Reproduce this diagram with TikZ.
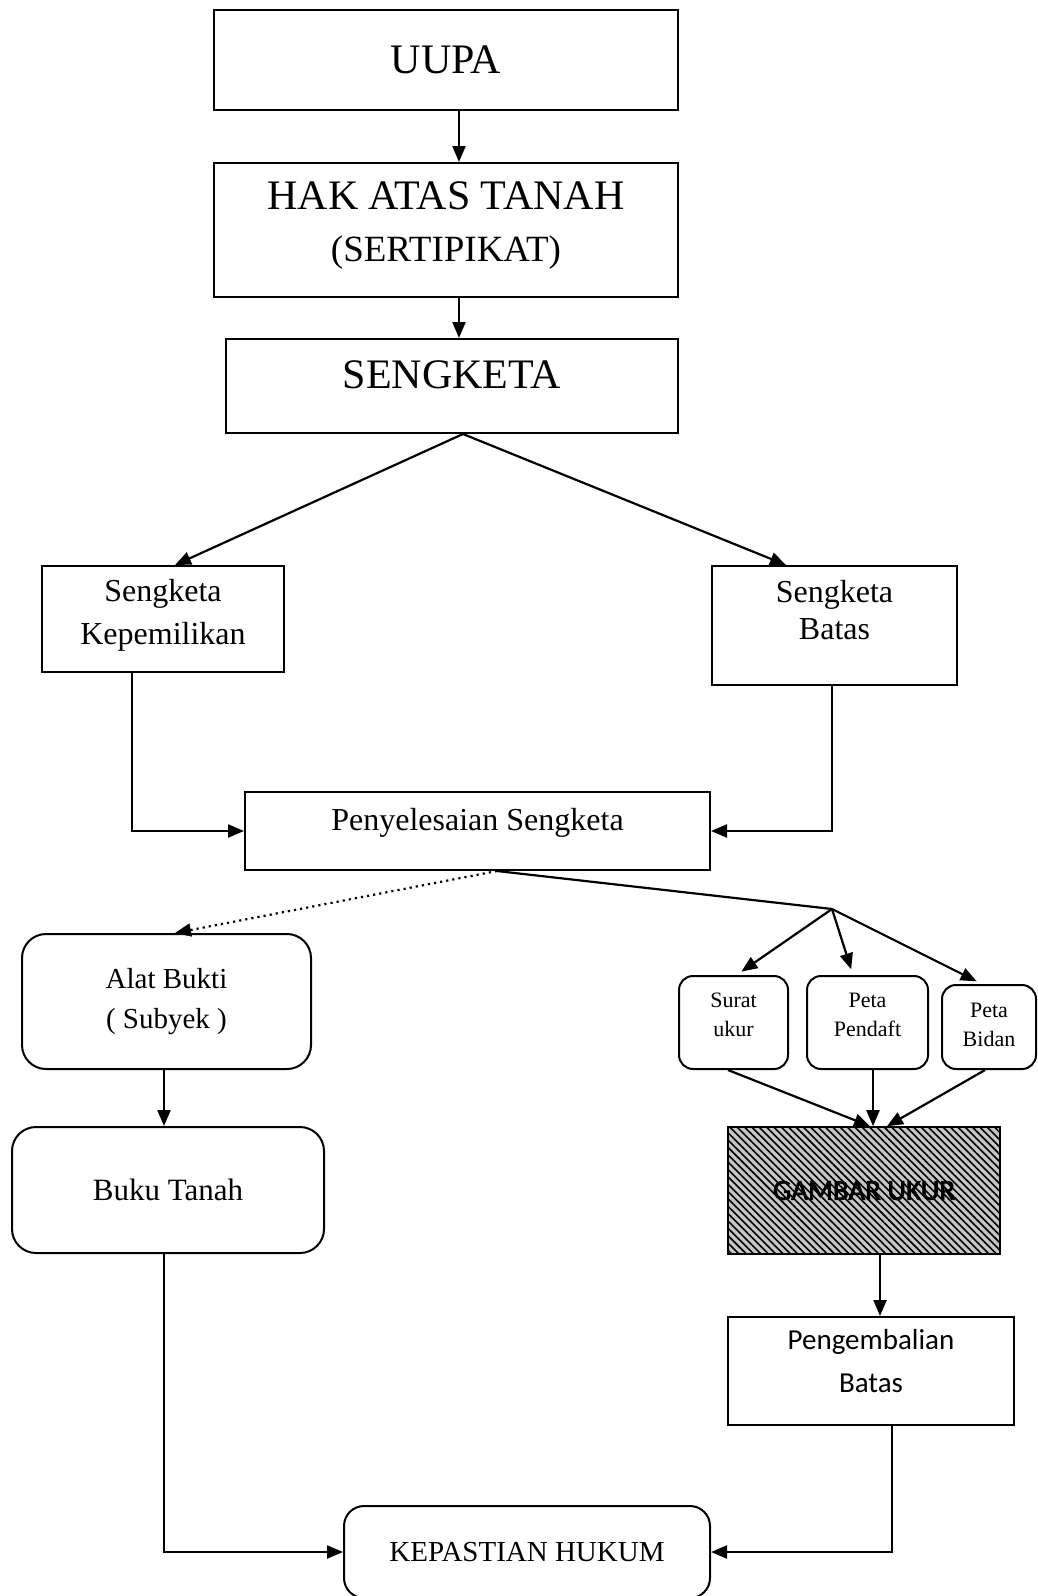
\documentclass[tikz,border=0pt]{standalone}
\usepackage{fontspec}
\setmainfont{Liberation Serif}
\newfontfamily\calfont{Carlito}
\newfontfamily\calheavy[FakeBold=2.5]{Carlito}
\usepackage{tikz}
\usetikzlibrary{positioning,calc,arrows.meta,patterns.meta}
\newcommand{\fsz}[2]{\fontsize{#1}{#2}\selectfont}
\tikzset{
  box/.style={rectangle,draw,line width=1pt,align=center,inner sep=2pt},
  rbox/.style={box,rounded corners=#1},
  arr/.style={-{Triangle[length=8pt,width=6.5pt]},line width=1.1pt},
}
\begin{document}
\begin{tikzpicture}[x=0.5pt,y=-0.5pt]
\useasboundingbox (0,0) rectangle (1038,1596);
\node[box,minimum width=232pt,minimum height=50pt,font=\fsz{21}{25}] (uupa) at (446,60) {UUPA};
\node[box,minimum width=232pt,minimum height=67pt,font=\fsz{21}{26},text depth=8pt] (hak) at (446,230) {HAK ATAS TANAH\\\fsz{18.5}{26}(SERTIPIKAT)};
\node[box,minimum width=226pt,minimum height=47pt,font=\fsz{21}{25},text depth=11pt] (sengketa) at (452,386) {SENGKETA};
\node[box,minimum width=121pt,minimum height=53pt,font=\fsz{16}{21.5},text depth=7pt] (kepem) at (163,619) {Sengketa\\Kepemilikan};
\node[box,minimum width=122.5pt,minimum height=59.5pt,font=\fsz{16}{18.5},text depth=16pt] (batas) at (834.5,625.5) {Sengketa\\Batas};
\node[box,minimum width=232.5pt,minimum height=39pt,font=\fsz{16}{20},text depth=12pt] (penyel) at (477.5,831) {Penyelesaian Sengketa};
\node[rbox=12pt,minimum width=144.5pt,minimum height=67.5pt,font=\fsz{14.5}{20}] (alat) at (166.5,1001.5) {Alat Bukti\\( Subyek )};
\node[rbox=7pt,minimum width=54.5pt,minimum height=46.5pt,font=\fsz{11}{14.5},text depth=8pt] (surat) at (733.5,1022.5) {Surat\\ukur};
\node[rbox=7pt,minimum width=60.5pt,minimum height=46.5pt,font=\fsz{11}{14.5},text depth=7.5pt] (pendaft) at (867.5,1022.5) {Peta\\Pendaft};
\node[rbox=7pt,minimum width=47pt,minimum height=42pt,font=\fsz{11}{14.5},text depth=2.5pt] (bidan) at (989,1027) {Peta\\Bidan};
\node[box,minimum width=136pt,minimum height=63.5pt,preaction={fill=gray!45},pattern={Lines[angle=-45,distance=2.6pt,line width=0.8pt]},font=\calheavy\fsz{14.5}{17}] (gambar) at (864,1190.5) {GAMBAR UKUR};
\node[rbox=12pt,minimum width=156pt,minimum height=63pt,font=\fsz{15.5}{20}] (buku) at (168,1190) {Buku Tanah};
\node[box,minimum width=143pt,minimum height=54pt,font=\calfont\fsz{14.5}{21.5},text depth=10pt] (pengem) at (871,1371) {Pengembalian\\Batas};
\node[rbox=10pt,minimum width=183pt,minimum height=46pt,font=\fsz{14.5}{18}] (kepastian) at (527,1552) {KEPASTIAN HUKUM};
\coordinate (split) at (832,909);
\draw[arr] ([xshift=6.5pt]uupa.south) -- ([xshift=6.5pt]hak.north);
\draw[arr] ([xshift=6.5pt]hak.south) -- ([xshift=3.5pt]sengketa.north);
\draw[arr] ([xshift=5.5pt]sengketa.south) -- ([xshift=6pt]kepem.north);
\draw[arr] ([xshift=5.5pt]sengketa.south) -- ([xshift=-24.25pt]batas.north);
\draw[arr] ([xshift=-15.5pt]kepem.south) |- (penyel.west);
\draw[arr] ([xshift=-1.25pt]batas.south) |- (penyel.east);
\draw[arr,dotted] ([xshift=9.75pt]penyel.south) -- ([xshift=4.25pt]alat.north);
\draw[line width=1.1pt] ([xshift=9.75pt]penyel.south) -- (split);
\draw[arr,shorten >=3pt] (split) -- ([xshift=1.5pt]surat.north);
\draw[arr,shorten >=3pt] (split) -- ([xshift=-7.25pt]pendaft.north);
\draw[arr,shorten >=3pt] (split) -- ([xshift=-3.5pt]bidan.north);
\draw[arr] ([xshift=-2.75pt]surat.south) -- ([xshift=3pt]gambar.north);
\draw[arr] ([xshift=2.75pt]pendaft.south) -- ([xshift=4.5pt]gambar.north);
\draw[arr] ([xshift=-2pt]bidan.south) -- ([xshift=11.5pt]gambar.north);
\draw[arr] ([xshift=8pt]gambar.south) -- ([xshift=4.5pt]pengem.north);
\draw[arr] ([xshift=-1.25pt]alat.south) -- ([xshift=-2pt]buku.north);
\draw[arr] ([xshift=-2pt]buku.south) |- (kepastian.west);
\draw[arr] ([xshift=10.5pt]pengem.south) |- (kepastian.east);
\end{tikzpicture}
\end{document}
